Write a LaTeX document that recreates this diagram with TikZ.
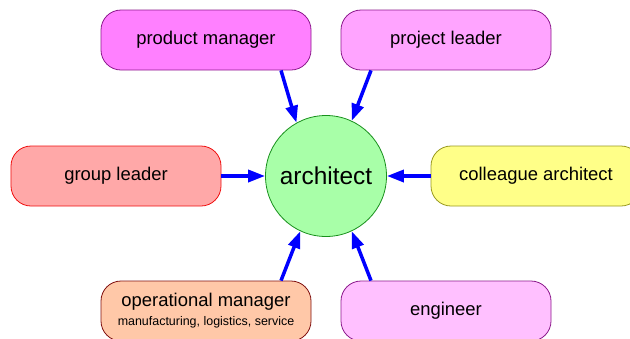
\documentclass[tikz,border=0pt]{standalone}
\usepackage{fontspec}
\setmainfont{Liberation Sans}
\usetikzlibrary{%
		arrows.meta%
	}
\definecolor{pmfill}{HTML}{FF80FF}
\definecolor{plfill}{HTML}{FFA4FF}
\definecolor{engfill}{HTML}{FFC0FF}
\definecolor{rolepurple}{HTML}{8C1A8C}
\definecolor{glfill}{HTML}{FFA8A8}
\definecolor{glline}{HTML}{F01010}
\definecolor{cafill}{HTML}{FFFF88}
\definecolor{caline}{HTML}{9A9A20}
\definecolor{omfill}{HTML}{FFC8A8}
\definecolor{omline}{HTML}{801010}
\definecolor{archfill}{HTML}{A8FFA8}
\definecolor{archline}{HTML}{18901C}

\begin{document}
\begin{tikzpicture}[x=1bp, y=-1bp,
		role/.style={draw, line width=0.8bp, rounded corners=20bp, minimum width=210bp, minimum height=60bp, inner sep=0pt, align=center, font=\fontsize{18.5}{21}\selectfont},
		push/.style={blue, line width=3.5bp, -{Triangle[length=17bp,width=12bp]}}
	]
			\useasboundingbox (0,0) rectangle (630,338);
			
			\node[role, fill=pmfill, draw=rolepurple] (pm) at (206,40) {product manager};
			\node[role, fill=plfill, draw=rolepurple] (pl) at (446,40) {project leader};
			\node[role, fill=glfill, draw=glline] (gl) at (116,176) {group leader};
			\node[role, fill=cafill, draw=caline] (ca) at (536,176) {colleague architect};
			\node[role, fill=omfill, draw=omline] (om) at (206,311) {operational manager\\[-2bp]{\fontsize{12.5}{14}\selectfont manufacturing, logistics, service}};
			\node[role, fill=engfill, draw=rolepurple] (eng) at (446,311) {engineer};
			
			\node[circle, draw=archline, fill=archfill, line width=0.8bp, minimum size=121bp, inner sep=0pt, font=\fontsize{24.5}{28}\selectfont] (arch) at (326,176) {architect};
			
			\draw[push] ([xshift=75bp]pm.south) -- (arch.119);
			\draw[push] ([xshift=-75bp]pl.south) -- (arch.65);
			\draw[push] (gl.east) -- (arch.west);
			\draw[push] (ca.west) -- (arch.east);
			\draw[push] ([xshift=75bp]om.north) -- (arch.245);
			\draw[push] ([xshift=-75bp]eng.north) -- (arch.295);
		\end{tikzpicture}
\end{document}
